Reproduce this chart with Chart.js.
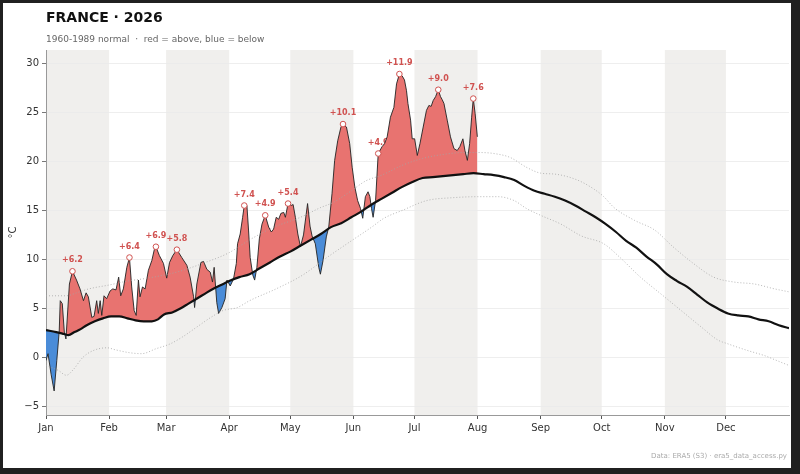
<!DOCTYPE html>
<html>
<head>
<meta charset="utf-8">
<title>France 2026</title>
<script src="https://cdn.jsdelivr.net/npm/chart.js@4.4.1/dist/chart.umd.min.js"></script>
<style>
  html, body { margin: 0; padding: 0; }
  body { width: 800px; height: 474px; background: #202020; position: relative; overflow: hidden; font-family: "DejaVu Sans", sans-serif; }
  #frame { position: absolute; left: 3px; top: 3px; width: 788px; height: 465px; background: #fff; }
  #frame canvas { position: absolute; left: 0; top: 0; }
  .txt { position: absolute; white-space: nowrap; line-height: 1; }
  #title { left: 46px; top: 10px; font-size: 14px; font-weight: bold; color: #111; }
  #subtitle { left: 46px; top: 34.7px; font-size: 9px; color: #666; }
  #source { right: 13px; top: 453px; font-size: 7px; color: #aaa; }
</style>
</head>
<body>
<div id="frame"><canvas id="myChart"></canvas></div>
<div class="txt" id="title">FRANCE · 2026</div>
<div class="txt" id="subtitle">1960-1989 normal &nbsp;·&nbsp; red = above, blue = below</div>
<div class="txt" id="source">Data: ERA5 (S3) · era5_data_access.py</div>
<script>
// x axis = day of year (0 = 1 Jan)
var monthStarts = [0, 31, 59, 90, 120, 151, 181, 212, 243, 273, 304, 334];
var monthNames = ['Jan', 'Feb', 'Mar', 'Apr', 'May', 'Jun', 'Jul', 'Aug', 'Sep', 'Oct', 'Nov', 'Dec'];
var yTicks = [-5, 0, 5, 10, 15, 20, 25, 30];

// shaded months (Jan, Mar, May, Jul, Sep, Nov)
var bandStarts = [0, 59, 120, 181, 243, 304];
var bandEnds = [31, 90, 151, 212, 273, 334];

// 1960-1989 normal
var normDays = [0, 5, 9, 11, 14, 17, 20, 24, 28, 32, 36, 40, 44, 48, 52, 55, 58, 62, 66, 70,
  74, 78, 82, 86, 90, 95, 100, 105, 110, 115, 120, 125, 130, 135, 140, 145, 150, 155, 160, 165,
  170, 175, 180, 185, 190, 195, 200, 205, 210, 215, 220, 225, 230, 235, 240, 245, 250, 255, 260, 265,
  270, 275, 280, 285, 290, 295, 300, 305, 310, 315, 320, 325, 330, 335, 340, 345, 350, 355, 360, 365];
var normTemps = [2.8, 2.6, 2.4, 2.3, 2.6, 2.9, 3.3, 3.7, 4.0, 4.2, 4.2, 4.0, 3.8, 3.7, 3.7, 3.9, 4.4, 4.6, 5.0, 5.5,
  6.0, 6.5, 7.0, 7.4, 7.8, 8.2, 8.5, 9.1, 9.7, 10.3, 10.8, 11.4, 12.0, 12.6, 13.3, 13.7, 14.3, 14.9, 15.6, 16.2,
  16.8, 17.4, 17.9, 18.3, 18.4, 18.5, 18.6, 18.7, 18.8, 18.7, 18.6, 18.4, 18.1, 17.5, 17.0, 16.7, 16.4, 16.0, 15.5, 14.9,
  14.3, 13.6, 12.8, 11.9, 11.2, 10.3, 9.5, 8.5, 7.8, 7.2, 6.4, 5.6, 5.0, 4.5, 4.3, 4.2, 3.9, 3.7, 3.3, 3.0];

// upper / lower spread of the normal (dotted)
var upDays = [0, 10, 15, 21, 31, 40, 50, 64, 77, 90, 100, 112, 125, 135, 141, 150, 157, 165, 175, 185,
  195, 205, 213, 220, 228, 236, 243, 250, 261, 269, 274, 279, 289, 299, 308, 318, 328, 338, 348, 358, 365];
var upTemps = [6.3, 6.3, 6.6, 7.0, 7.4, 7.8, 8.1, 8.7, 9.6, 10.7, 12.0, 13.3, 14.3, 15.3, 15.8, 17.0, 18.0, 18.6, 19.6, 20.3,
  20.7, 20.9, 20.9, 20.8, 20.4, 19.4, 18.8, 18.7, 18.1, 17.2, 16.4, 15.3, 14.0, 13.0, 11.3, 9.6, 8.2, 7.7, 7.5, 7.0, 6.7];
var loDays = [0, 6, 10, 13.5, 18, 23, 30, 34, 41, 47, 54, 61, 67, 74, 81, 87, 94, 100, 113, 126,
  138, 150, 160, 166, 175, 187, 200, 213, 222, 230, 236, 243, 253, 263, 274, 282, 292, 302, 312, 322,
  330, 335, 345, 353, 359, 365];
var loTemps = [-0.8, -1.3, -1.8, -1.2, 0.0, 0.7, 1.0, 0.8, 0.5, 0.4, 0.9, 1.4, 2.1, 3.1, 4.1, 4.8, 5.1, 5.8, 7.0, 8.4,
  10.2, 11.9, 13.3, 14.2, 15.0, 16.0, 16.3, 16.4, 16.4, 16.0, 15.2, 14.5, 13.6, 12.4, 11.6, 10.2, 8.2, 6.5, 4.8, 3.1,
  1.8, 1.4, 0.7, 0.2, -0.3, -0.8];

// 2026 observed daily mean
var obsDays = [
  0, 1, 2.5, 4, 5.3, 6.5, 7, 8, 9, 9.8, 11.5, 13, 15, 16.7, 18.4, 19.7, 20.8, 22.5, 23.6, 24.9, 25.7, 26.6, 27.4, 28.5, 29.8,
  31.5, 32.8, 34.4, 35.7, 36.7, 38, 39.7, 41, 42.1, 43.3, 44.3, 45.4, 46.2, 47.4, 48.7, 50.3, 52, 53.2, 54, 55.7, 57.7,
  59.3, 60.7, 62.3, 64.3, 66.7, 69.2, 70.8, 72.5, 73, 74.1, 76.1, 77.4, 79, 80.7, 81.8, 82.6, 83.1, 83.9, 84.8, 86.4, 88, 88.9,
  90.5, 92.1, 93.5, 94.1, 95.4, 96.6, 97.4, 98.7, 99.5, 100.3, 101.6, 102.5, 103.6, 104.8, 106.1, 107.7, 109.4, 110.7, 111.8,
  113.1, 114.3, 115.4, 116.8, 117.6, 118.9,
  120.4, 121.4, 122.5, 123.7, 125, 126.5, 128.5, 129.7, 130.7, 132.3, 134, 134.8, 136.1, 137.7, 138.9, 140.5, 141.8, 143.3,
  144.9, 145.9, 147.6, 149.2, 150.4,
  151.7, 153.1, 154.5, 155.6, 156.9, 158.2, 159.1, 159.9, 160.7, 161.9, 163.2, 165.1, 166.3, 167.6, 169.2, 170.9, 172.2,
  173.6, 175, 176.1, 177.1, 177.8, 179.1, 179.9,
  181.1, 182.4, 183.7, 185.3, 186.9, 188.1, 189.2, 190.2, 191.4, 192.7, 193.8, 194.6, 195.5, 197.1, 198.7, 200.4, 202,
  203.3, 204.8, 205.8, 207, 208.1, 209.1, 209.9, 210.8, 211.9];
var obsTemps = [
  -0.3, 0.4, -1.7, -3.4, -0.3, 2.7, 5.8, 5.5, 2.6, 1.9, 7.5, 8.8, 7.9, 7.0, 5.8, 6.6, 6.2, 4.1, 4.2, 5.8, 4.5, 5.8, 4.3, 6.3, 6.0,
  6.8, 7.0, 6.9, 8.2, 6.3, 7.0, 9.2, 10.2, 7.2, 4.8, 4.3, 7.9, 6.2, 7.2, 7.0, 8.9, 9.9, 11.0, 11.3, 10.4, 9.6,
  8.1, 9.7, 10.4, 11.0, 10.2, 9.4, 8.2, 6.2, 5.1, 7.5, 9.7, 9.8, 9.0, 8.7, 7.7, 9.2, 7.8, 5.6, 4.5, 5.1, 6.0, 7.9,
  7.3, 8.0, 9.6, 11.6, 12.6, 14.3, 15.5, 15.5, 13.0, 10.2, 8.4, 7.9, 9.2, 12.1, 13.6, 14.5, 13.3, 12.8, 13.1,
  14.3, 14.1, 14.7, 14.8, 14.3, 15.7,
  15.5, 15.6, 14.3, 12.6, 11.3, 12.5, 15.7, 13.4, 12.4, 11.6, 9.2, 8.5, 9.9, 12.3, 13.3, 16.7, 20.1, 22.1,
  23.5, 23.8, 23.5, 21.8, 19.4,
  17.4, 16.0, 15.2, 14.2, 16.4, 16.9, 16.4, 15.2, 14.3, 16.0, 20.8, 21.5, 21.8, 22.5, 24.5, 25.5, 27.9,
  28.9, 28.7, 28.3, 27.2, 25.9, 24.2, 22.3,
  22.3, 20.6, 21.8, 23.5, 25.2, 25.7, 25.6, 26.2, 26.6, 27.3, 26.6, 26.3, 25.9, 24.2, 22.5, 21.3, 21.1,
  21.5, 22.3, 21.1, 20.1, 21.8, 24.5, 26.4, 24.9, 22.5];

// annotated warm peaks
var peakDays = [13, 41, 54, 64.3, 97.4, 107.7, 118.9, 145.9, 163.2, 173.6, 192.7, 209.9];
var peakTemps = [8.8, 10.2, 11.3, 11.0, 15.5, 14.5, 15.7, 23.8, 20.8, 28.9, 27.3, 26.4];
var peakLabels = ['+6.2', '+6.4', '+6.9', '+5.8', '+7.4', '+4.9', '+5.4', '+10.1', '+4.9', '+11.9', '+9.0', '+7.6'];

var colorSet = {
	red: 'rgb(232, 115, 112)',
	blue: 'rgb(74, 140, 216)',
	label: 'rgb(208, 82, 80)',
	band: 'rgb(240, 239, 237)',
	grid: 'rgb(234, 234, 234)',
	dots: 'rgb(165, 165, 165)'
};

function pts(xs, ys) {
	return xs.map(function (x, i) { return {x: x, y: ys[i]}; });
}

// grey month bands, under the grid
var monthBands = {
	id: 'monthBands',
	beforeDraw: function (chart) {
		var ctx = chart.ctx, a = chart.chartArea, x = chart.scales.x;
		ctx.save();
		ctx.fillStyle = colorSet.band;
		for (var i = 0; i < bandStarts.length; i++) {
			var x0 = x.getPixelForValue(bandStarts[i]);
			var x1 = x.getPixelForValue(bandEnds[i]);
			ctx.fillRect(x0, a.top, x1 - x0, a.bottom - a.top);
		}
		ctx.restore();
	}
};

// anomaly labels above the peaks (drawn under the fill like the original)
var peakText = {
	id: 'peakText',
	beforeDatasetsDraw: function (chart) {
		var ctx = chart.ctx, x = chart.scales.x, y = chart.scales.y;
		ctx.save();
		ctx.font = 'bold 8px "DejaVu Sans"';
		ctx.fillStyle = colorSet.label;
		ctx.textAlign = 'center';
		ctx.textBaseline = 'middle';
		for (var i = 0; i < peakDays.length; i++) {
			ctx.fillText(peakLabels[i], x.getPixelForValue(peakDays[i]), y.getPixelForValue(peakTemps[i]) - 11);
		}
		ctx.restore();
	}
};

var ctx = document.getElementById('myChart').getContext('2d');
var myChart = new Chart(ctx, {
	type: 'line',
	data: {
		datasets: [
			{
				label: '2026',
				data: pts(obsDays, obsTemps),
				borderColor: '#222',
				borderWidth: 0.9,
				pointRadius: 0,
				fill: {target: 1, above: colorSet.red, below: colorSet.blue},
				order: 3
			},
			{
				label: 'normal',
				data: pts(normDays, normTemps),
				borderColor: '#111',
				borderWidth: 2.2,
				pointRadius: 0,
				cubicInterpolationMode: 'monotone',
				fill: false,
				order: 1
			},
			{
				label: 'upper',
				data: pts(upDays, upTemps),
				borderColor: colorSet.dots,
				borderWidth: 0.8,
				borderDash: [1, 2],
				pointRadius: 0,
				cubicInterpolationMode: 'monotone',
				fill: false,
				order: 2
			},
			{
				label: 'lower',
				data: pts(loDays, loTemps),
				borderColor: colorSet.dots,
				borderWidth: 0.8,
				borderDash: [1, 2],
				pointRadius: 0,
				cubicInterpolationMode: 'monotone',
				fill: false,
				order: 2
			},
			{
				label: 'peaks',
				data: pts(peakDays, peakTemps),
				showLine: false,
				pointRadius: 2.8,
				pointBorderWidth: 1,
				pointBackgroundColor: '#fff',
				pointBorderColor: colorSet.label,
				fill: false,
				order: 0
			}
		]
	},
	options: {
		responsive: true,
		maintainAspectRatio: false,
		animation: false,
		layout: {autoPadding: false, padding: {top: 47, right: 2, bottom: 28, left: 0}},
		plugins: {
			legend: {display: false},
			tooltip: {enabled: false}
		},
		scales: {
			x: {
				type: 'linear',
				min: 0,
				max: 365,
				afterBuildTicks: function (scale) {
					scale.ticks = monthStarts.map(function (v) { return {value: v}; });
				},
				afterFit: function (scale) {
					scale.height = 25;
					scale.paddingLeft = 0;
					scale.paddingRight = 0;
				},
				grid: {drawOnChartArea: false, drawTicks: true, tickLength: 4, tickColor: '#555'},
				border: {display: true, color: '#999', width: 1},
				ticks: {
					autoSkip: false,
					maxRotation: 0,
					padding: 3,
					color: '#333',
					font: {family: 'DejaVu Sans', size: 10},
					callback: function (v) { return monthNames[monthStarts.indexOf(v)]; }
				}
			},
			y: {
				min: -5.85,
				max: 31.35,
				afterBuildTicks: function (scale) {
					scale.ticks = yTicks.map(function (v) { return {value: v}; });
				},
				afterFit: function (scale) { scale.width = 43; },
				grid: {color: colorSet.grid, lineWidth: 0.8, drawTicks: true, tickLength: 4, tickColor: '#555'},
				border: {display: true, color: '#999', width: 1},
				title: {display: true, text: '°C', color: '#333', font: {family: 'DejaVu Sans', size: 10}},
				ticks: {
					padding: 3,
					color: '#333',
					font: {family: 'DejaVu Sans', size: 10},
					callback: function (v) { return v < 0 ? '\u2212' + Math.abs(v) : '' + v; }
				}
			}
		}
	},
	plugins: [monthBands, peakText]
});
</script>
</body>
</html>
